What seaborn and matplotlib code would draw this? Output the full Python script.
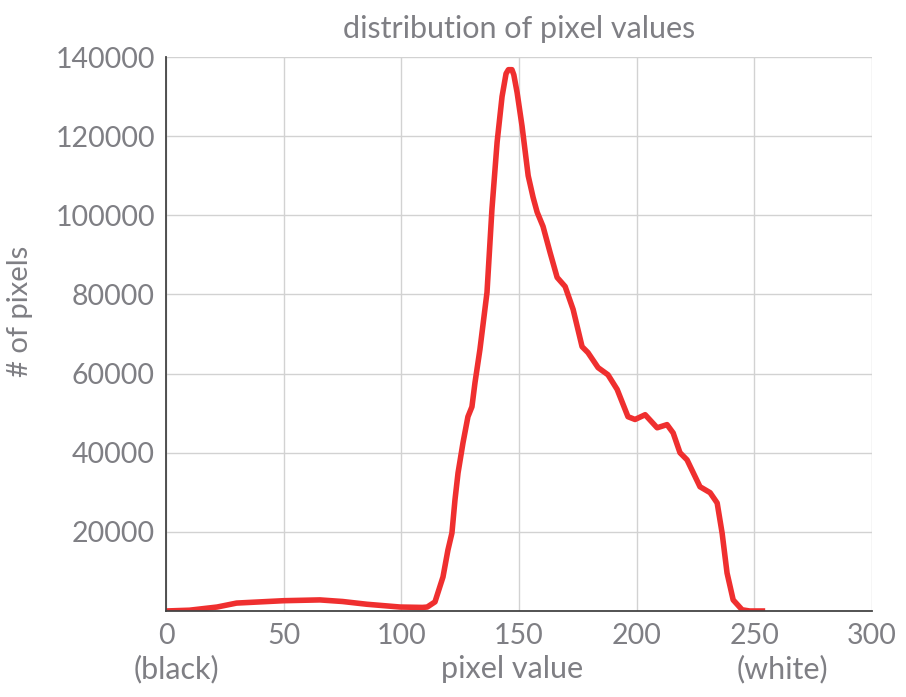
import pandas as pd
import matplotlib.pyplot as plt
import seaborn as sns

# --- DATA ---
pixel_value = [0, 10, 21.7, 30, 40, 50, 65.4, 75, 85.4, 99.5, 109, 111, 114.3, 117.7,
               119.8, 121.5, 122.8, 124.1, 126.2, 128.3, 130, 131.3, 133.4, 136.4,
               138.5, 140.7, 142.8, 144.5, 145.5, 147, 147.8, 149.2, 151.3, 153.9, 156, 157.7,
               160.2, 163.2, 166.2, 169.6, 173, 176.8, 179.3, 183.6, 187.8, 191.7,
               196.3, 199.3, 203.6, 208.7, 212.9, 215.5, 218.4, 221.4, 226.9, 231.2,
               234.2, 236.3, 238.4, 241, 244.8, 248, 254.6]
pixel_count = [0, 200, 1000, 2000, 2300, 2600, 2800, 2400, 1700, 1000, 900, 1000, 2300,
               8600, 15400, 19700, 28100, 34900, 42500, 49100, 51600, 57700, 66100,
               80500, 101500, 118500, 130000, 135800, 136800, 136800, 135500, 131000, 122500, 110000,
               104500, 100800, 97200, 90600, 84300, 82000, 76200, 66800, 65300, 61500,
               59700, 56000, 49100, 48400, 49600, 46300, 47100, 45000, 40000, 38200,
               31400, 29900, 27300, 19700, 9600, 2800, 300, 0, 0]
xticks = [0, 50, 100, 150, 200, 250, 300]
yticks = [20000, 40000, 60000, 80000, 100000, 120000, 140000]

df = pd.DataFrame({'pixel value': pixel_value, 'count': pixel_count})

# --- STYLE ---
sns.set_theme(style='white')
plt.rcParams['font.family'] = ['Lato', 'DejaVu Sans']
grey = '#7f7f84'

fig = plt.figure(figsize=(9.06, 6.97), dpi=100)
ax = fig.add_axes([0.1832, 0.1234, 0.7793, 0.7948])

sns.lineplot(data=df, x='pixel value', y='count', ax=ax, color='#ef2f2f',
             linewidth=4.0, solid_capstyle='butt', solid_joinstyle='round')

ax.set_xlim(0, 300)
ax.set_ylim(0, 140000)
ax.set_xticks(xticks)
ax.set_yticks(yticks)
ax.set_xticklabels([str(t) for t in xticks])
ax.set_yticklabels([str(t) for t in yticks])
ax.grid(True, color='#d2d2d2', linewidth=1)
ax.set_axisbelow(True)

for s in ['top', 'right']:
    ax.spines[s].set_visible(False)
for s in ['left', 'bottom']:
    ax.spines[s].set_color('#444444')
    ax.spines[s].set_linewidth(1.3)

ax.tick_params(axis='both', direction='in', length=6, width=1.3, color='#444444',
               labelcolor=grey, labelsize=20.5, pad=8)
ax.tick_params(axis='x', pad=9)

ax.set_xlabel('')
ax.set_ylabel('# of pixels', fontsize=21, color=grey)
ax.yaxis.set_label_coords(-0.188, 0.54)
ax.set_title('distribution of pixel values', fontsize=22, color=grey, pad=14)

# second row of x labels
trans = ax.get_xaxis_transform()
ax.text(4.5, -0.105, '(black)', transform=trans, ha='center', va='center',
        fontsize=22, color=grey)
ax.text(262, -0.105, '(white)', transform=trans, ha='center', va='center',
        fontsize=22, color=grey)
ax.text(147, -0.105, 'pixel value', transform=trans, ha='center', va='center',
        fontsize=22, color=grey)

fig.savefig('out.png', dpi=100)
